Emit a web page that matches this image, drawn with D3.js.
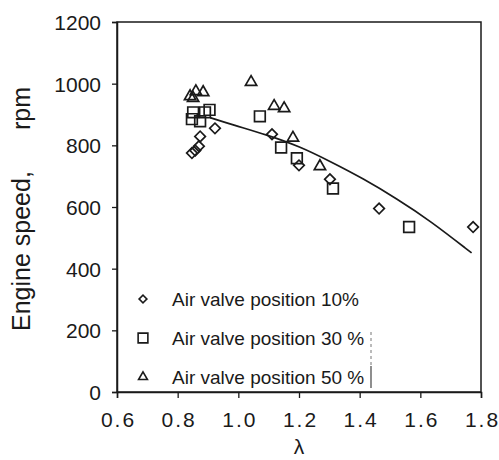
<!DOCTYPE html>
<html>
<head>
<meta charset="utf-8">
<script src="https://cdn.jsdelivr.net/npm/d3@7"></script>
<style>
  html, body { margin: 0; padding: 0; background: #fff; }
  svg { display: block; font-family: "Liberation Sans", Arial, sans-serif; }
</style>
</head>
<body>
<svg id="chart" width="499" height="460"></svg>
<script>
// Engine speed versus excess-air ratio for three air valve positions
const valve10Lambda = [0.874, 0.923, 0.847, 0.858, 0.870, 1.111, 1.200, 1.302, 1.464, 1.774];
const valve10Speed  = [829, 855, 775, 783, 797, 836, 735, 690, 595, 535];

const valve30Lambda = [0.851, 0.847, 0.874, 0.890, 0.905, 1.071, 1.141, 1.193, 1.312, 1.563];
const valve30Speed  = [907, 885, 878, 907, 915, 894, 793, 758, 660, 535];

const valve50Lambda = [0.841, 0.860, 0.884, 0.851, 1.042, 1.118, 1.151, 1.180, 1.269];
const valve50Speed  = [959, 975, 972, 953, 1005, 927, 920, 824, 732];

// Trend curve read along its length
const trendLambda = [0.907, 0.983, 1.094, 1.203, 1.302, 1.412, 1.522, 1.632, 1.769];
const trendSpeed  = [890, 866, 834, 796, 748, 692, 627, 556, 451];

const xTicks = [0.6, 0.8, 1.0, 1.2, 1.4, 1.6, 1.8];
const yTicks = [0, 200, 400, 600, 800, 1000, 1200];

const seriesNames = ["Air valve position 10%", "Air valve position 30 %", "Air valve position 50 %"];

const svg = d3.select("#chart");
const plotL = 117, plotR = 481, plotT = 22, plotB = 392;
const ink = "#1a1a1a";

const x = d3.scaleLinear().domain([0.6, 1.8]).range([plotL, plotR]);
const y = d3.scaleLinear().domain([0, 1200]).range([plotB, plotT]);

// Frame
svg.append("rect")
  .attr("x", plotL).attr("y", plotT)
  .attr("width", plotR - plotL).attr("height", plotB - plotT)
  .attr("fill", "none").attr("stroke", ink).attr("stroke-width", 1.5);

// Axes
const xAxis = svg.append("g")
  .attr("transform", `translate(0,${plotB})`)
  .call(d3.axisBottom(x).tickValues(xTicks).tickFormat(d3.format(".1f")).tickSize(6).tickPadding(11));
const yAxis = svg.append("g")
  .attr("transform", `translate(${plotL},0)`)
  .call(d3.axisLeft(y).tickValues(yTicks).tickFormat(d3.format("d")).tickSize(5).tickPadding(11));

[xAxis, yAxis].forEach(g => {
  g.select(".domain").attr("stroke", ink).attr("stroke-width", 1.5);
  g.selectAll(".tick line").attr("stroke", ink).attr("stroke-width", 1.3);
  g.selectAll(".tick text")
    .attr("fill", ink)
    .style("font-family", "'Liberation Sans', Arial, sans-serif")
    .style("font-size", "21px");
});
xAxis.selectAll(".tick text")
  .attr("dy", "0.85em")
  .attr("dx", "1px")
  .style("letter-spacing", "2px");
yAxis.selectAll(".tick text").attr("dy", "0.36em");

// Axis titles
svg.append("text")
  .attr("x", x(1.2)).attr("y", 454)
  .attr("text-anchor", "middle")
  .attr("fill", ink)
  .style("font-size", "21px")
  .text("λ");

const yTitle = svg.append("g").attr("transform", "translate(30,0)");
yTitle.append("text")
  .attr("transform", "translate(0,331) rotate(-90)")
  .attr("text-anchor", "start")
  .attr("fill", ink)
  .style("font-size", "25px")
  .text("Engine speed,");
yTitle.append("text")
  .attr("transform", "translate(0,87) rotate(-90)")
  .attr("text-anchor", "end")
  .attr("fill", ink)
  .style("font-size", "25px")
  .text("rpm");

// Trend curve
const line = d3.line()
  .x((d, i) => x(trendLambda[i]))
  .y(d => y(d))
  .curve(d3.curveBasis);
svg.append("path")
  .datum(trendSpeed)
  .attr("d", line)
  .attr("fill", "none")
  .attr("stroke", ink)
  .attr("stroke-width", 1.7);

// Marker shapes
const diamond = d3.symbol().type(d3.symbolSquare).size(56);
const square = d3.symbol().type(d3.symbolSquare).size(115);
const triangle = d3.symbol().type(d3.symbolTriangle).size(55);

function drawSeries(lams, speeds, gen, rotate) {
  svg.append("g").selectAll("path")
    .data(speeds)
    .join("path")
    .attr("d", gen())
    .attr("transform", (d, i) => `translate(${x(lams[i])},${y(d)})` + (rotate ? " rotate(45)" : ""))
    .attr("fill", "none")
    .attr("stroke", ink)
    .attr("stroke-width", 1.7);
}
drawSeries(valve10Lambda, valve10Speed, diamond, true);
drawSeries(valve30Lambda, valve30Speed, square, false);
drawSeries(valve50Lambda, valve50Speed, triangle, false);

// Legend
const legendRows = [
  { gen: d3.symbol().type(d3.symbolSquare).size(30), rotate: true, y: 299 },
  { gen: d3.symbol().type(d3.symbolSquare).size(95), rotate: false, y: 338 },
  { gen: d3.symbol().type(d3.symbolTriangle).size(34), rotate: false, y: 377 }
];
const legend = svg.append("g");
legendRows.forEach((r, i) => {
  legend.append("path")
    .attr("d", r.gen())
    .attr("transform", `translate(143,${r.y})` + (r.rotate ? " rotate(45)" : ""))
    .attr("fill", "none")
    .attr("stroke", ink)
    .attr("stroke-width", 1.6);
  legend.append("text")
    .attr("x", 172).attr("y", r.y)
    .attr("dy", "0.36em")
    .attr("fill", ink)
    .style("font-size", "19px")
    .text(seriesNames[i]);
});
// Remnant of the legend box edge
legend.append("line")
  .attr("x1", 371).attr("x2", 371).attr("y1", 332).attr("y2", 366)
  .attr("stroke", "#777").attr("stroke-width", 1).attr("stroke-dasharray", "3,3");
legend.append("line")
  .attr("x1", 371).attr("x2", 371).attr("y1", 366).attr("y2", 388)
  .attr("stroke", "#444").attr("stroke-width", 1.2);
</script>
</body>
</html>
